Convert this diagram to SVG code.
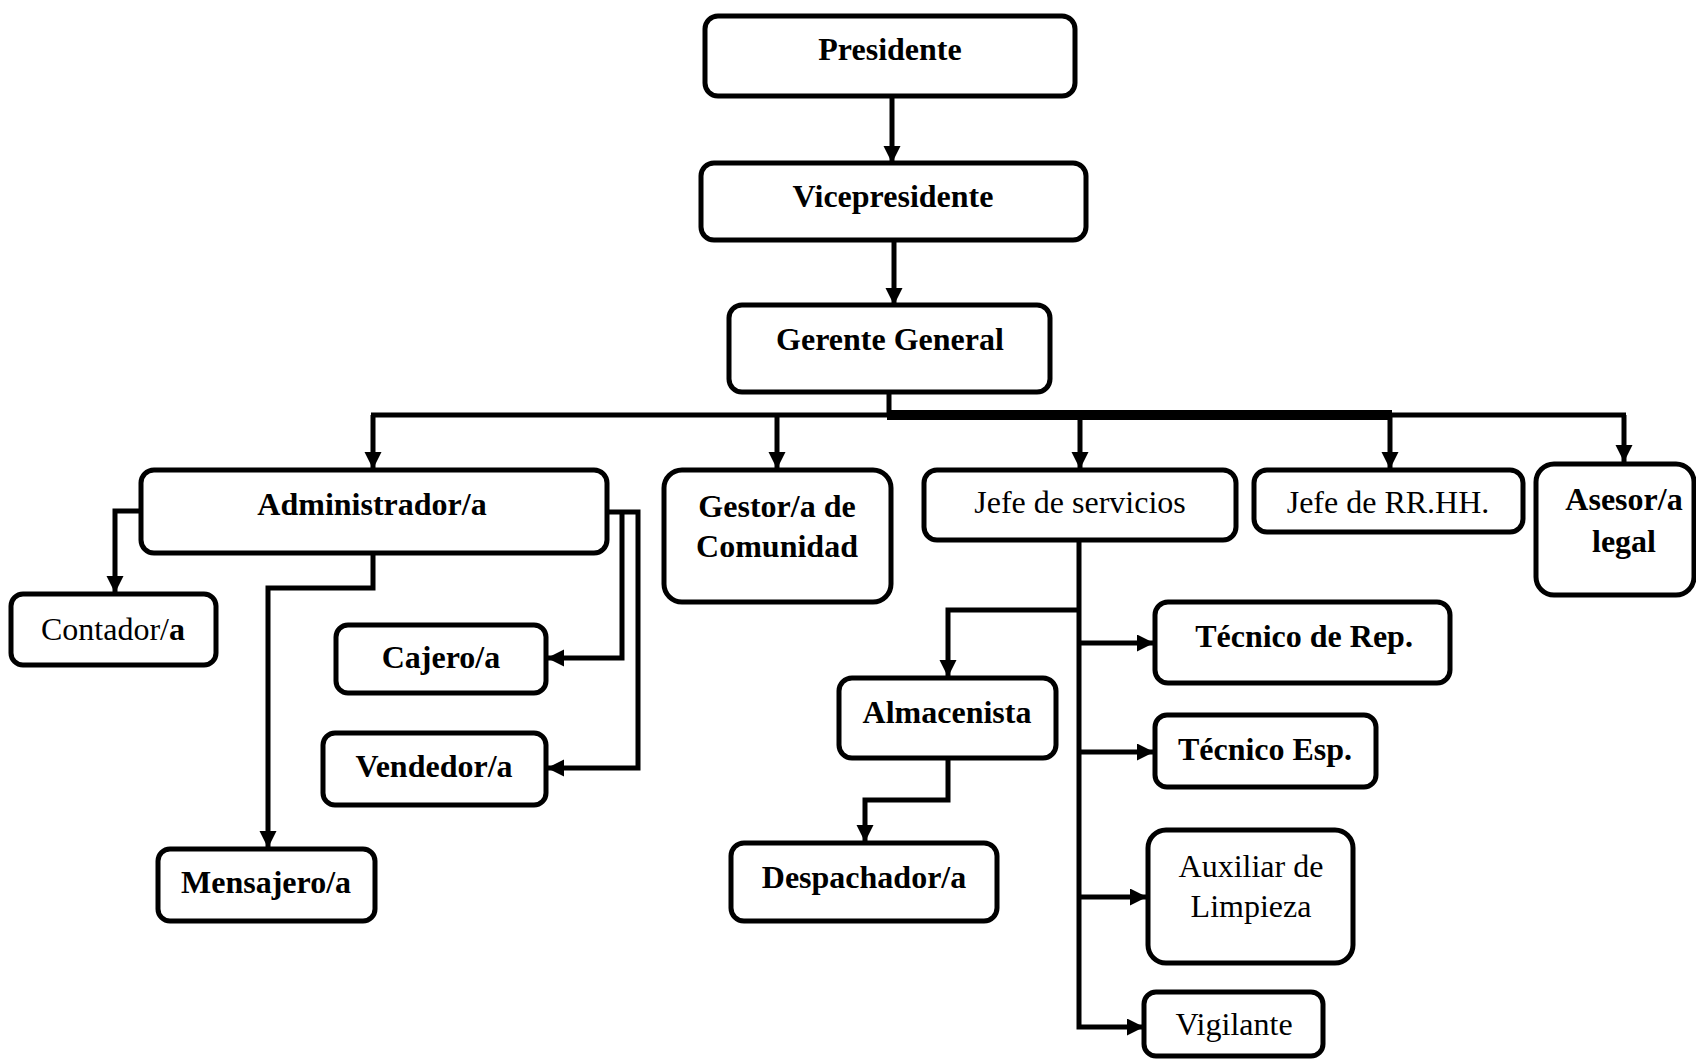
<svg xmlns="http://www.w3.org/2000/svg" width="1696" height="1059" viewBox="0 0 1696 1059">
<style>
.box{fill:#fff;stroke:#000;stroke-width:5}
.t{font-family:"Liberation Serif","Times New Roman",serif;font-size:32px;text-anchor:middle;fill:#000}
.b{font-weight:bold}
.c{fill:none;stroke:#000;stroke-width:5;stroke-linejoin:miter}
</style>
<defs>
<marker id="ah" markerUnits="userSpaceOnUse" markerWidth="18" markerHeight="18" refX="17" refY="8.5" orient="auto">
<path d="M0,0 L17,8.5 L0,17 z" fill="#000"/>
</marker>
</defs>
<rect width="1696" height="1059" fill="#fff"/>
<g id="connectors">
<line class="c" x1="892" y1="96" x2="892" y2="163" marker-end="url(#ah)"/>
<line class="c" x1="894" y1="240" x2="894" y2="305" marker-end="url(#ah)"/>
<line class="c" x1="889" y1="392" x2="889" y2="415"/>
<line class="c" x1="371" y1="415" x2="1626" y2="415"/>
<line x1="887" y1="415" x2="1392" y2="415" stroke="#000" stroke-width="10"/>
<polyline class="c" points="373,415 373,469" marker-end="url(#ah)"/>
<polyline class="c" points="777,415 777,469" marker-end="url(#ah)"/>
<polyline class="c" points="1080,415 1080,469" marker-end="url(#ah)"/>
<polyline class="c" points="1390,415 1390,469" marker-end="url(#ah)"/>
<polyline class="c" points="1624,415 1624,462" marker-end="url(#ah)"/>
<polyline class="c" points="141,511 115,511 115,593" marker-end="url(#ah)"/>
<polyline class="c" points="373,553 373,588 268,588 268,848" marker-end="url(#ah)"/>
<polyline class="c" points="607,512 638,512 638,768 547,768" marker-end="url(#ah)"/>
<polyline class="c" points="622,512 622,658 547,658" marker-end="url(#ah)"/>
<polyline class="c" points="1079,540 1079,1027 1144,1027" marker-end="url(#ah)"/>
<polyline class="c" points="1079,610 948,610 948,677" marker-end="url(#ah)"/>
<polyline class="c" points="1079,643 1154,643" marker-end="url(#ah)"/>
<polyline class="c" points="1079,752 1154,752" marker-end="url(#ah)"/>
<polyline class="c" points="1079,897 1147,897" marker-end="url(#ah)"/>
<polyline class="c" points="948,758 948,800 865,800 865,842" marker-end="url(#ah)"/>
</g>
<g id="presidente"><rect class="box" x="705" y="16" width="370" height="80" rx="13"/><text class="t b" x="890" y="60">Presidente</text></g>
<g id="vicepresidente"><rect class="box" x="701" y="163" width="385" height="77" rx="13"/><text class="t b" x="893" y="207">Vicepresidente</text></g>
<g id="gerente"><rect class="box" x="729" y="305" width="321" height="87" rx="13"/><text class="t b" x="890" y="350">Gerente General</text></g>
<g id="administrador"><rect class="box" x="141" y="470" width="466" height="83" rx="13"/><text class="t b" x="372" y="515">Administrador/a</text></g>
<g id="gestor"><rect class="box" x="664" y="470" width="227" height="132" rx="18"/><text class="t b" x="777" y="517">Gestor/a de</text><text class="t b" x="777" y="557">Comunidad</text></g>
<g id="jefe-servicios"><rect class="box" x="924" y="470" width="312" height="70" rx="13"/><text class="t" x="1080" y="513">Jefe de servicios</text></g>
<g id="jefe-rrhh"><rect class="box" x="1254" y="470" width="269" height="62" rx="13"/><text class="t" x="1388" y="513">Jefe de RR.HH.</text></g>
<g id="asesor"><rect class="box" x="1536" y="464" width="158" height="131" rx="18"/><text class="t b" x="1624" y="510">Asesor/a</text><text class="t b" x="1624" y="552">legal</text></g>
<g id="contador"><rect class="box" x="11" y="594" width="205" height="71" rx="12"/><text class="t" x="113" y="640">Contador/<tspan class="b">a</tspan></text></g>
<g id="cajero"><rect class="box" x="336" y="625" width="210" height="68" rx="12"/><text class="t b" x="441" y="668">Cajero/a</text></g>
<g id="vendedor"><rect class="box" x="323" y="733" width="223" height="72" rx="12"/><text class="t b" x="434" y="777">Vendedor/a</text></g>
<g id="mensajero"><rect class="box" x="158" y="849" width="217" height="72" rx="12"/><text class="t b" x="266" y="893">Mensajero/a</text></g>
<g id="tecnico-rep"><rect class="box" x="1155" y="602" width="295" height="81" rx="13"/><text class="t b" x="1304" y="647">Técnico de Rep.</text></g>
<g id="almacenista"><rect class="box" x="839" y="678" width="217" height="80" rx="13"/><text class="t b" x="947" y="723">Almacenista</text></g>
<g id="tecnico-esp"><rect class="box" x="1155" y="715" width="221" height="72" rx="12"/><text class="t b" x="1265" y="760">Técnico Esp.</text></g>
<g id="despachador"><rect class="box" x="731" y="843" width="266" height="78" rx="13"/><text class="t b" x="864" y="888">Despachador/a</text></g>
<g id="auxiliar"><rect class="box" x="1148" y="830" width="205" height="133" rx="18"/><text class="t" x="1251" y="877">Auxiliar de</text><text class="t" x="1251" y="917">Limpieza</text></g>
<g id="vigilante"><rect class="box" x="1144" y="992" width="179" height="64" rx="12"/><text class="t" x="1234" y="1035">Vigilante</text></g>
</svg>
